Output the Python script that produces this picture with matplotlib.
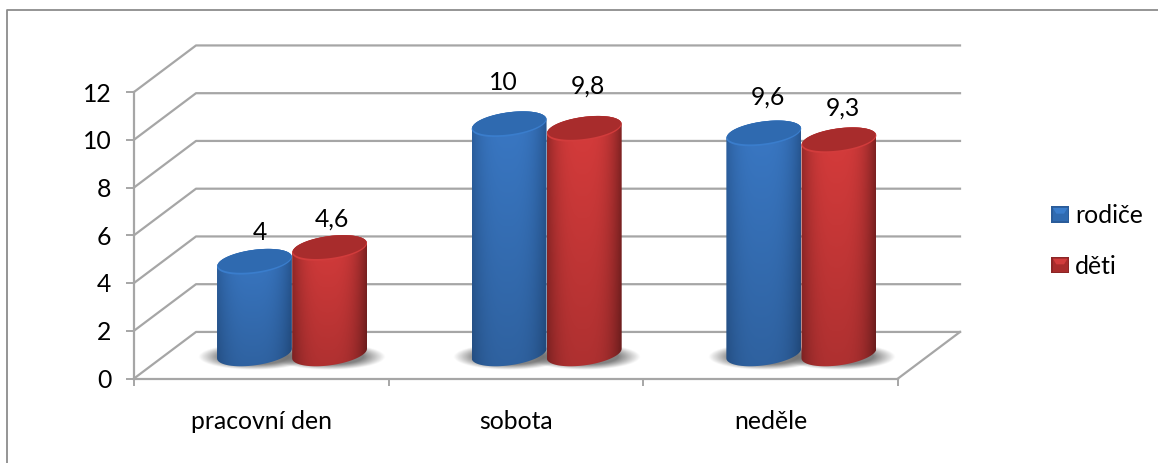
import numpy as np
import matplotlib
matplotlib.use("Agg")
import matplotlib.pyplot as plt
from matplotlib.patches import PathPatch, Rectangle, Polygon
from matplotlib.path import Path
from matplotlib.legend_handler import HandlerBase
from matplotlib.lines import Line2D

plt.rcParams['font.family'] = ['Lato', 'DejaVu Sans']

categories = ['pracovní den', 'sobota', 'neděle']
rodice = [4, 10, 9.6]
deti = [4.6, 9.8, 9.3]
value_labels = [['4', '10', '9,6'], ['4,6', '9,8', '9,3']]
y_ticks = [0, 2, 4, 6, 8, 10, 12]

W, H = 1158, 463
GRID = '#a6a6a6'
FS = 17.8

# 3d look: how far the back wall is shifted, in data units
DEPTH_X = 0.2435
DEPTH_Y = 1.95
BASE_Y = 1.05         # floor level under the cylinders
HEIGHT_K = 0.96       # heights shrink a bit at mid depth
RX, RY, TILT = 0.147, 0.5, 0.2
OFFSETS = [0.473, 0.768]

BLUE = dict(edge='#2a5c9a', mid='#3a79c6', rim='#3a7dcc', cap='#2f6ab0')
RED = dict(edge='#8c2626', mid='#d83c3c', rim='#d23c3c', cap='#a82c2c')


def ellipse(cx, cy, t):
    return cx + RX * np.cos(t), cy + RY * np.sin(t) + TILT * np.cos(t)


def hex_rgb(c):
    return np.array(matplotlib.colors.to_rgb(c))


def draw_shadow(ax, cx):
    # soft dark blob lying on the floor
    xs = np.linspace(cx - 0.26, cx + 0.26, 160)
    ys = np.linspace(BASE_Y - 0.95, BASE_Y + 0.75, 60)
    xx, yy = np.meshgrid(xs, ys)
    r = np.sqrt(((xx - cx) / 0.22) ** 2 + ((yy - BASE_Y + 0.15) / 0.55) ** 2)
    img = np.zeros(xx.shape + (4,))
    img[..., :3] = 0.42
    img[..., 3] = np.clip((1.0 - r) / 0.4, 0, 1) * 0.85
    ax.imshow(img, extent=[xs[0], xs[-1], ys[0], ys[-1]], origin='lower',
              aspect='auto', zorder=2, clip_on=False, interpolation='bilinear')


def draw_cylinder(ax, cx, value, colors, z):
    top = BASE_Y + value * HEIGHT_K
    t_low = np.linspace(np.pi, 2 * np.pi, 50)
    t_up = np.linspace(0, np.pi, 50)
    bx, by = ellipse(cx, BASE_Y, t_low)
    tx, ty = ellipse(cx, top, t_up)
    body = PathPatch(Path(np.column_stack([np.r_[bx, tx], np.r_[by, ty]])),
                     fc='none', ec='none', zorder=z)
    ax.add_patch(body)

    # side of the cylinder, dark edges and a lit middle
    u = np.linspace(-1, 1, 120)
    light = (1 - np.abs(u + 0.05) ** 3)[None, :, None]
    v = np.linspace(0.8, 1, 40)[:, None, None]
    img = (hex_rgb(colors['edge']) + (hex_rgb(colors['mid']) - hex_rgb(colors['edge'])) * light) * v
    side = ax.imshow(np.clip(img, 0, 1), extent=[cx - RX, cx + RX, BASE_Y - 1, top + 1],
                     origin='lower', aspect='auto', zorder=z, interpolation='bilinear')
    side.set_clip_path(body)

    # cap: bright rim with a darker inner disc
    t = np.linspace(0, 2 * np.pi, 100)
    ax.fill(*ellipse(cx, top, t), color=colors['rim'], lw=0, zorder=z + 0.1, clip_on=False)
    x2, y2 = ellipse(cx, top + 0.04, t)
    ax.fill(cx + (x2 - cx) * 0.98, top + 0.04 + (y2 - top - 0.04) * 0.93,
            color=colors['cap'], lw=0, zorder=z + 0.2, clip_on=False)


class BevelHandler(HandlerBase):
    def create_artists(self, legend, orig, xd, yd, width, height, fontsize, trans):
        s = self.palette[orig.get_color()]
        x0, y0 = -xd, -yd
        rect = Rectangle((x0, y0), width, height, fc=s['edge'], ec='none', transform=trans)
        mid = Polygon([(x0 + width * 0.08, y0 + height * 0.08), (x0 + width * 0.92, y0 + height * 0.08),
                       (x0 + width * 0.92, y0 + height * 0.9), (x0 + width * 0.08, y0 + height * 0.9)],
                      fc=s['cap'], ec='none', transform=trans)
        tri = Polygon([(x0 + width * 0.08, y0 + height * 0.9), (x0 + width * 0.92, y0 + height * 0.9),
                       (x0 + width * 0.72, y0 + height * 0.55), (x0 + width * 0.28, y0 + height * 0.55)],
                      fc=s['rim'], ec='none', transform=trans)
        return [rect, mid, tri]


fig = plt.figure(figsize=(W / 100, H / 100), dpi=100)
# outer chart border, only left and top are drawn
fig.add_artist(Line2D([7.5 / W, 7.5 / W, 1], [0, 1 - 9.5 / H, 1 - 9.5 / H], color='#8c8c8c', lw=1.3,
                      transform=fig.transFigure))

ax = fig.add_axes([134 / W, 1 - 378.5 / H, 764 / W, 286.5 / H])
ax.patch.set_visible(False)

# back wall and side wall lines
for v in y_ticks:
    ax.plot([0, DEPTH_X, 3 + DEPTH_X], [v, v + DEPTH_Y, v + DEPTH_Y], color=GRID, lw=1.6,
            clip_on=False, zorder=1)
ax.plot([3, 3 + DEPTH_X], [0, DEPTH_Y], color=GRID, lw=1.6, clip_on=False, zorder=1)

x = np.arange(len(categories))
for i, vals in enumerate([rodice, deti]):
    for j, val in enumerate(vals):
        draw_shadow(ax, x[j] + OFFSETS[i])

# label nudges in points, the cylinder caps get in the way otherwise
label_dx = [[4, -4, 3], [1.5, 3, 3]]
label_dy = [[21, 30, 26], [21, 30.5, 23.5]]
for i, (vals, colors) in enumerate(zip([rodice, deti], [BLUE, RED])):
    for j, val in enumerate(vals):
        cx = x[j] + OFFSETS[i]
        draw_cylinder(ax, cx, val, colors, 3 + i)
        ax.annotate(value_labels[i][j], (cx, BASE_Y + val * HEIGHT_K),
                    xytext=(label_dx[i][j], label_dy[i][j]),
                    textcoords='offset points', ha='center', va='center', fontsize=FS,
                    annotation_clip=False, zorder=6)

ax.set_xlim(0, 3)
ax.set_ylim(0, 12)
for s in ['top', 'right']:
    ax.spines[s].set_visible(False)
for s in ['left', 'bottom']:
    ax.spines[s].set_color(GRID)
    ax.spines[s].set_linewidth(1.6)
    ax.spines[s].set_zorder(1)

ax.set_yticks(y_ticks)
ax.tick_params(axis='y', length=5.8, width=1.4, color=GRID, labelsize=FS, pad=10.5)
ax.set_xticks([0, 1, 2, 3])
ax.set_xticklabels([])
ax.tick_params(axis='x', which='major', length=5, width=1.4, color=GRID)
ax.set_xticks(x + 0.5, categories, minor=True)
ax.tick_params(axis='x', which='minor', length=0, labelsize=FS, pad=22.5)

BevelHandler.palette = {BLUE['mid']: BLUE, RED['mid']: RED}
handles = [Line2D([], [], color=BLUE['mid']), Line2D([], [], color=RED['mid'])]
fig.legend(handles, ['rodiče', 'děti'], handler_map={Line2D: BevelHandler()},
           loc='center left', bbox_to_anchor=(1044 / W, 1 - 241 / H), frameon=False,
           fontsize=FS, handlelength=0.71, handleheight=0.65, handletextpad=0.24,
           labelspacing=1.12, borderpad=0.3, borderaxespad=0)

fig.savefig('out.png', dpi=100)
